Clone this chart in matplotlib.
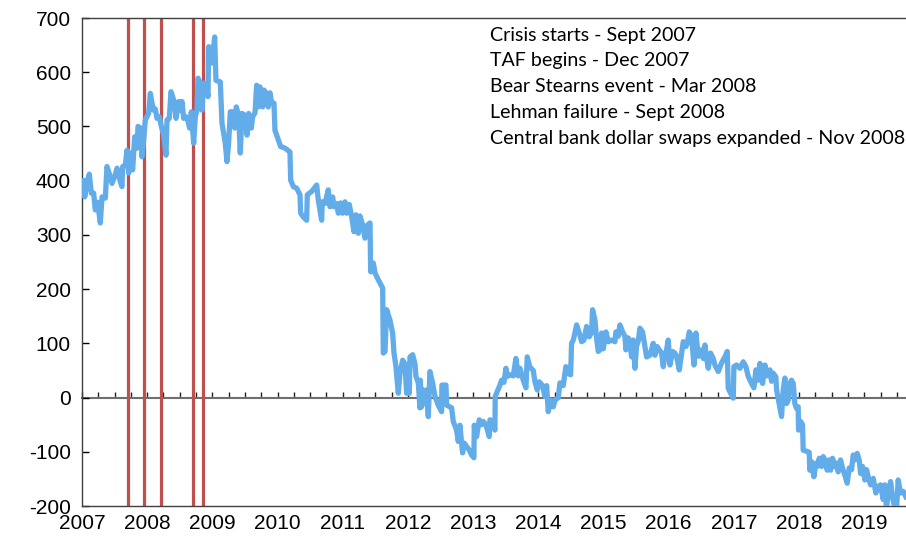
import numpy as np
import matplotlib
matplotlib.use("Agg")
import matplotlib.pyplot as plt

plt.rcParams["axes.unicode_minus"] = False

# weekly-ish spread series (decimal year, level)
dates = [
    2007.026, 2007.041, 2007.077, 2007.112, 2007.143, 2007.179, 2007.204, 2007.240,
    2007.281, 2007.307, 2007.358, 2007.383, 2007.435, 2007.460, 2007.511, 2007.537,
    2007.588, 2007.613, 2007.624, 2007.665, 2007.690, 2007.716, 2007.741, 2007.777,
    2007.808, 2007.844, 2007.859, 2007.895, 2007.920, 2007.946, 2007.971, 2008.022,
    2008.048, 2008.074, 2008.099, 2008.125, 2008.150, 2008.186, 2008.217, 2008.253,
    2008.288, 2008.304, 2008.339, 2008.365, 2008.391, 2008.416, 2008.442, 2008.483,
    2008.508, 2008.534, 2008.559, 2008.595, 2008.626, 2008.651, 2008.677, 2008.713,
    2008.738, 2008.764, 2008.779, 2008.815, 2008.840, 2008.866, 2008.902, 2008.933,
    2008.943, 2008.984, 2008.994, 2009.035, 2009.055, 2009.122, 2009.147, 2009.198,
    2009.224, 2009.249, 2009.275, 2009.311, 2009.342, 2009.367, 2009.403, 2009.428,
    2009.454, 2009.505, 2009.531, 2009.556, 2009.597,
    2009.618, 2009.654, 2009.679, 2009.705, 2009.730, 2009.771, 2009.792, 2009.833,
    2009.858, 2009.884, 2009.909, 2009.945, 2009.960, 2010.012, 2010.047, 2010.114,
    2010.190, 2010.201, 2010.242, 2010.293, 2010.344, 2010.354, 2010.395, 2010.446,
    2010.456, 2010.523, 2010.600, 2010.625, 2010.676, 2010.686, 2010.727, 2010.778,
    2010.804, 2010.845, 2010.865, 2010.906, 2010.932, 2010.968, 2010.998, 2011.034,
    2011.060, 2011.100, 2011.136, 2011.172, 2011.203, 2011.239, 2011.264, 2011.305,
    2011.341, 2011.377, 2011.418, 2011.428, 2011.469, 2011.494, 2011.545, 2011.612,
    2011.622, 2011.648, 2011.673, 2011.724, 2011.765, 2011.786, 2011.816, 2011.852,
    2011.878, 2011.919, 2011.954, 2011.980, 2012.021, 2012.031, 2012.072, 2012.108,
    2012.123, 2012.159, 2012.184,
    2012.190, 2012.210, 2012.235, 2012.261, 2012.286, 2012.312, 2012.337, 2012.378,
    2012.414, 2012.465, 2012.516, 2012.521, 2012.583, 2012.593, 2012.670, 2012.695,
    2012.746, 2012.772, 2012.797, 2012.838, 2012.864, 2012.900, 2012.941, 2012.976,
    2013.012, 2013.017, 2013.053, 2013.094, 2013.130, 2013.155, 2013.196, 2013.247,
    2013.258, 2013.299, 2013.334, 2013.339, 2013.370, 2013.411, 2013.437, 2013.472,
    2013.503, 2013.524, 2013.564, 2013.616, 2013.656, 2013.692, 2013.718, 2013.769,
    2013.810, 2013.830, 2013.871, 2013.922, 2013.948, 2013.984, 2014.014, 2014.065,
    2014.101, 2014.127, 2014.152, 2014.188, 2014.229, 2014.255, 2014.306, 2014.331,
    2014.382, 2014.423, 2014.459, 2014.495, 2014.510, 2014.536, 2014.561, 2014.587,
    2014.628, 2014.664, 2014.699, 2014.740, 2014.781, 2014.817, 2014.832, 2014.868,
    2014.894, 2014.919,
    2014.945, 2014.971, 2014.996, 2015.037, 2015.073, 2015.124, 2015.175, 2015.190,
    2015.226, 2015.252, 2015.293, 2015.328, 2015.344, 2015.380, 2015.405, 2015.431,
    2015.456, 2015.482, 2015.507, 2015.533, 2015.558, 2015.599, 2015.635, 2015.661,
    2015.712, 2015.763, 2015.789, 2015.824, 2015.855, 2015.891, 2015.916, 2015.942,
    2015.967, 2015.993, 2016.019, 2016.060, 2016.095, 2016.121, 2016.162, 2016.198,
    2016.223, 2016.264, 2016.284, 2016.315, 2016.351, 2016.387, 2016.417, 2016.453,
    2016.504, 2016.530, 2016.555, 2016.581, 2016.607, 2016.642, 2016.683, 2016.709,
    2016.760, 2016.811, 2016.862, 2016.898, 2016.913, 2016.949, 2016.990, 2017.000,
    2017.041, 2017.092, 2017.143, 2017.184, 2017.220, 2017.271, 2017.307, 2017.338,
    2017.373, 2017.399, 2017.440, 2017.476, 2017.512, 2017.552, 2017.578, 2017.603,
    2017.644, 2017.655,
    2017.731, 2017.756, 2017.782, 2017.808, 2017.833, 2017.859, 2017.884, 2017.910,
    2017.935, 2017.961, 2017.986, 2017.992, 2018.022, 2018.053, 2018.063, 2018.114,
    2018.155, 2018.165, 2018.191, 2018.227, 2018.257, 2018.278, 2018.309, 2018.344,
    2018.370, 2018.396, 2018.431, 2018.462, 2018.483, 2018.513, 2018.549, 2018.575,
    2018.600, 2018.636, 2018.666, 2018.702, 2018.738, 2018.769, 2018.805, 2018.830,
    2018.856, 2018.891, 2018.922, 2018.943, 2018.973, 2019.009, 2019.035, 2019.060,
    2019.096, 2019.137, 2019.178, 2019.214, 2019.249, 2019.290, 2019.316, 2019.341,
    2019.367, 2019.403, 2019.433, 2019.469, 2019.495, 2019.520, 2019.556, 2019.597,
    2019.638,
]

spread = [
    400, 370, 395, 412, 377, 377, 346, 360,
    322, 370, 368, 426, 407, 395, 411, 423,
    398, 389, 426, 429, 456, 414, 451, 420,
    481, 460, 500, 497, 444, 475, 512, 524,
    561, 543, 530, 532, 515, 518, 500, 484,
    447, 512, 515, 564, 555, 543, 515, 546,
    530, 546, 515, 518, 510, 497, 527, 469,
    518, 530, 589, 580, 530, 580, 578, 555,
    647, 645, 617, 665, 585, 582, 506, 469,
    435, 469, 527, 527, 497, 536, 520, 451,
    524, 520, 484, 524, 497,
    518, 525, 576, 536, 573, 536, 567, 560,
    536, 562, 543, 543, 493, 475, 463, 460,
    453, 401, 389, 386, 374, 340, 333, 327,
    374, 380, 392, 364, 327, 361, 358, 383,
    352, 370, 352, 358, 340, 359, 340, 361,
    340, 356, 334, 306, 337, 303, 335, 318,
    294, 318, 322, 232, 248, 230, 217, 202,
    82, 85, 162, 143, 119, 82, 57, 8,
    45, 69, 62, 8, 8, 75, 79, 62,
    39, 27, -19,
    32, -17, 14, -10, 14, -35, 48, 27,
    2, -14, -26, 23, 23, -14, -19, -44,
    -60, -81, -51, -102, -84, -90, -97, -106,
    -111, -51, -72, -41, -50, -44, -50, -72,
    -41, -44, -60, 2, 11, 23, 32, 28,
    54, 39, 42, 40, 72, 40, 54, 32,
    18, 75, 56, 50, 29, 14, 29, 22,
    2, 22, -26, -5, -17, -5, 0, 27,
    22, 57, 45, 42, 100, 106, 119, 134,
    119, 103, 106, 131, 112, 120, 162, 143,
    109, 85,
    88, 119, 90, 121, 103, 106, 103, 121,
    113, 134, 121, 113, 88, 110, 100, 75,
    106, 54, 95, 104, 128, 121, 94, 75,
    78, 100, 78, 94, 88, 82, 57, 75,
    88, 106, 60, 85, 82, 76, 51, 82,
    103, 94, 100, 121, 113, 60, 119, 76,
    88, 72, 97, 72, 54, 82, 72, 60,
    48, 64, 75, 85, 17, 8, -1, 57,
    60, 54, 66, 57, 39, 26, 18, 51,
    32, 63, 26, 60, 40, 51, 30, 45,
    38, 14,
    -35, 14, 36, -11, -5, 26, 32, 26,
    -11, -20, -17, -60, -44, -50, -97, -99,
    -101, -134, -118, -146, -121, -127, -112, -127,
    -109, -115, -134, -115, -134, -112, -127, -121,
    -137, -115, -130, -143, -158, -130, -133, -106,
    -115, -103, -115, -140, -127, -152, -133, -146,
    -161, -149, -176, -164, -161, -188, -161, -205,
    -176, -155, -183, -205, -205, -152, -176, -173,
    -183,
]

# event markers (decimal year)
event_dates = [2007.705, 2007.951, 2008.207, 2008.708, 2008.861]
event_labels = [
    "Crisis starts - Sept 2007",
    "TAF begins - Dec 2007",
    "Bear Stearns event - Mar 2008",
    "Lehman failure - Sept 2008",
    "Central bank dollar swaps expanded - Nov 2008",
]

years = list(range(2007, 2020))

fig = plt.figure(figsize=(9.06, 5.44), dpi=100)
ax = fig.add_axes([82 / 906, 38 / 544, 824 / 906, 488 / 544])

for d in event_dates:
    ax.axvline(d, color="#C0504D", lw=2.3, zorder=2)

ax.plot(dates, spread, color="#62ADE9", lw=3.8, solid_joinstyle="round", zorder=3)

ax.set_xlim(2007, 2019.64)
ax.set_ylim(-200, 700)
ax.set_yticks(range(-200, 701, 100))
ax.set_xticks(years)
ax.set_xticklabels([str(y) for y in years])

for lab in ax.get_xticklabels() + ax.get_yticklabels():
    lab.set_fontfamily(["Liberation Sans", "DejaVu Sans"])
    lab.set_fontsize(15)

ax.tick_params(axis="x", length=0, pad=6)
ax.tick_params(axis="y", direction="in", length=5, width=1, pad=8, colors="black")

for side in ["left", "top", "bottom"]:
    ax.spines[side].set_color("#404040")
    ax.spines[side].set_linewidth(1.0)
ax.spines["right"].set_visible(False)

# zero line with quarterly tick marks
zero_ax = ax.secondary_xaxis(2 / 9)
zero_ax.spines["bottom"].set_color("#6f6f6f")
zero_ax.spines["bottom"].set_linewidth(1.5)
zero_ax.set_xticks(np.arange(2007, 2019.7, 0.25))
zero_ax.tick_params(direction="in", length=4, width=1, labelbottom=False, colors="#222222")

# annotation block
ypos = [0.965, 0.912, 0.859, 0.807, 0.754]
for txt, yy in zip(event_labels, ypos):
    ax.text(0.495, yy, txt, transform=ax.transAxes, ha="left", va="center",
            fontsize=14.1, family=["Lato", "DejaVu Sans"], color="black")

fig.savefig("out.png", dpi=100)
